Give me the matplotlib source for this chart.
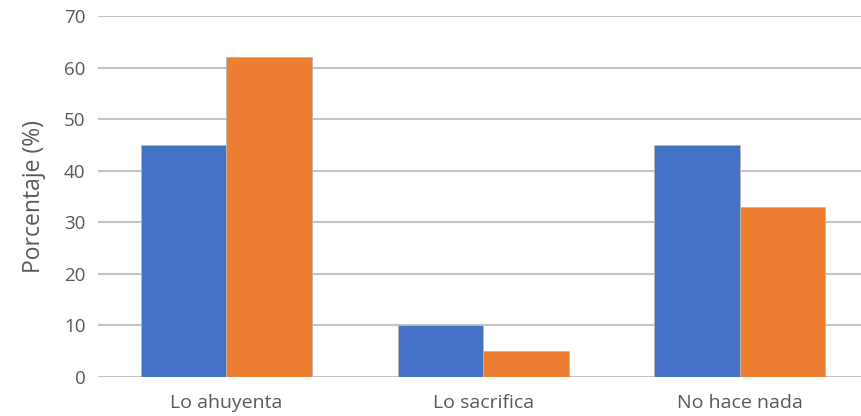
import matplotlib
matplotlib.use("Agg")
import matplotlib.pyplot as plt
import numpy as np

categories = ["Lo ahuyenta", "Lo sacrifica", "No hace nada"]
serie_a = [45, 10, 45]
serie_b = [62, 5, 33]
y_ticks = [0, 10, 20, 30, 40, 50, 60, 70]

plt.rcParams["font.family"] = ["Open Sans", "DejaVu Sans"]

fig = plt.figure(figsize=(8.61, 4.16), dpi=100)
ax = fig.add_axes([98 / 861, 39 / 416, 1 - 98 / 861, (377 - 16) / 416])

x = np.arange(len(categories))
w = 1 / 3
ax.bar(x - w / 2, serie_a, width=w, color="#4472C4", edgecolor="#b8b8b8",
       linewidth=0.6, zorder=3)
ax.bar(x + w / 2, serie_b, width=w, color="#ED7D31", edgecolor="#b8b8b8",
       linewidth=0.6, zorder=3)

ax.set_xlim(-0.5, 2.472)
ax.set_ylim(0, 70)
ax.set_yticks(y_ticks)
ax.set_xticks(x)
ax.set_xticklabels(categories)
ax.yaxis.grid(True, color="#c4c4c4", linewidth=1.5, zorder=0)
ax.set_axisbelow(True)
for s in ax.spines.values():
    s.set_visible(False)
ax.tick_params(axis="both", length=0, colors="#595959")
ax.tick_params(axis="y", pad=9, labelsize=13.5)
ax.tick_params(axis="x", pad=12, labelsize=14)
ax.set_ylabel("Porcentaje (%)", color="#595959", fontsize=16.5)
ax.yaxis.set_label_coords(-(98 - 46) / 763, 0.5)

fig.savefig("out.png", dpi=100)
